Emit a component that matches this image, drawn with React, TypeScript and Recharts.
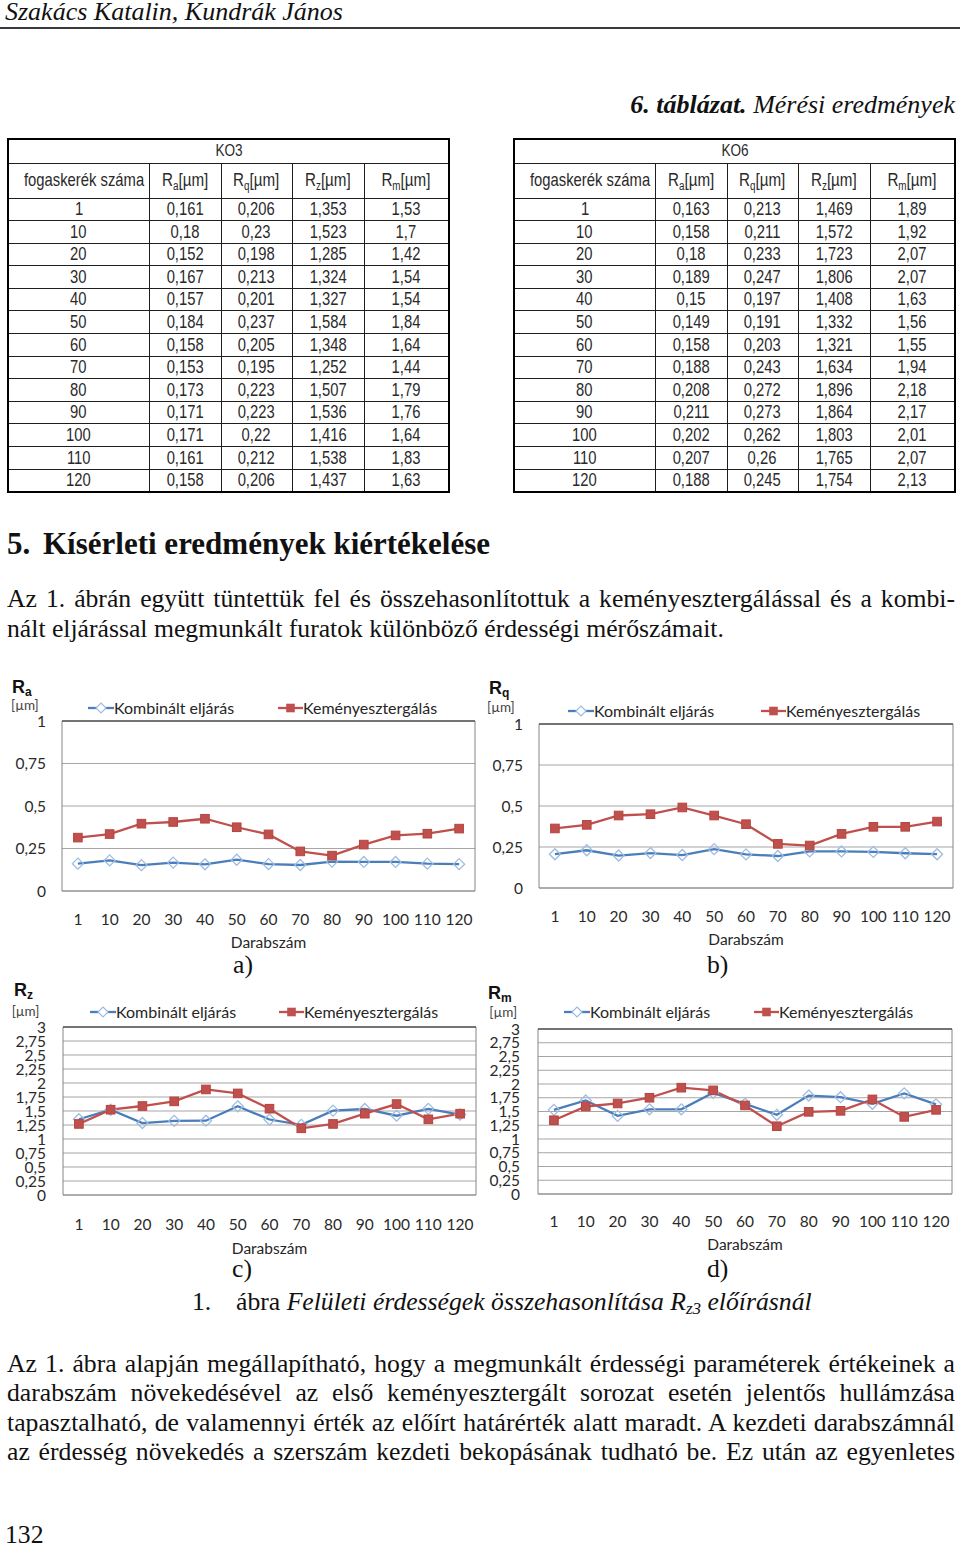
import React from "react";
import { LineChart, Line, XAxis, YAxis, CartesianGrid, ReferenceArea, ReferenceLine } from "recharts";

const darabszam = ["1", "10", "20", "30", "40", "50", "60", "70", "80", "90", "100", "110", "120"];

// KO3 table = "Kombinált eljárás" series in the plots
const ko3Ra = [0.161, 0.18, 0.152, 0.167, 0.157, 0.184, 0.158, 0.153, 0.173, 0.171, 0.171, 0.161, 0.158];
const ko3Rq = [0.206, 0.23, 0.198, 0.213, 0.201, 0.237, 0.205, 0.195, 0.223, 0.223, 0.22, 0.212, 0.206];
const ko3Rz = [1.353, 1.523, 1.285, 1.324, 1.327, 1.584, 1.348, 1.252, 1.507, 1.536, 1.416, 1.538, 1.437];
const ko3Rm = [1.53, 1.7, 1.42, 1.54, 1.54, 1.84, 1.64, 1.44, 1.79, 1.76, 1.64, 1.83, 1.63];

// KO6 table
const ko6Ra = [0.163, 0.158, 0.18, 0.189, 0.15, 0.149, 0.158, 0.188, 0.208, 0.211, 0.202, 0.207, 0.188];
const ko6Rq = [0.213, 0.211, 0.233, 0.247, 0.197, 0.191, 0.203, 0.243, 0.272, 0.273, 0.262, 0.26, 0.245];
const ko6Rz = [1.469, 1.572, 1.723, 1.806, 1.408, 1.332, 1.321, 1.634, 1.896, 1.864, 1.803, 1.765, 1.754];
const ko6Rm = [1.89, 1.92, 2.07, 2.07, 1.63, 1.56, 1.55, 1.94, 2.18, 2.17, 2.01, 2.07, 2.13];

// Keményesztergálás
const kemRa = [0.314, 0.335, 0.396, 0.406, 0.425, 0.375, 0.333, 0.233, 0.208, 0.273, 0.327, 0.337, 0.367];
const kemRq = [0.363, 0.385, 0.442, 0.45, 0.491, 0.442, 0.389, 0.269, 0.259, 0.33, 0.373, 0.373, 0.405];
const kemRz = [1.269, 1.523, 1.589, 1.672, 1.885, 1.814, 1.541, 1.191, 1.269, 1.452, 1.624, 1.352, 1.452];
const kemRm = [1.341, 1.591, 1.646, 1.75, 1.933, 1.884, 1.61, 1.232, 1.494, 1.512, 1.72, 1.402, 1.53];

const ticksSmall = [0, 0.25, 0.5, 0.75, 1];
const ticksBig = [0, 0.25, 0.5, 0.75, 1, 1.25, 1.5, 1.75, 2, 2.25, 2.5, 2.75, 3];

const BLUE = "#4A7EBB";
const RED = "#C0504D";
const DIAMOND = "#9DBCE2";
const BODY = 25.7;

const fmt = (v: number) => String(v).replace(".", ",");

const DiamondDot = (props: any) => {
  const { cx, cy, index } = props;
  if (cx == null || cy == null) return null;
  const r = 5.5;
  return (
    <path
      key={`dm${index}`}
      d={`M${cx},${cy - r}L${cx + r},${cy}L${cx},${cy + r}L${cx - r},${cy}Z`}
      fill="none"
      stroke={DIAMOND}
      strokeWidth={1.3}
    />
  );
};

const SquareDot = (props: any) => {
  const { cx, cy, index } = props;
  if (cx == null || cy == null) return null;
  return <rect key={`sq${index}`} x={cx - 4.3} y={cy - 4.3} width={8.6} height={8.6} fill={RED} stroke="#B5443F" />;
};

type Box = { x0: number; x1: number; y0: number; y1: number };

function Panel(p: {
  left: number;
  top: number;
  sub: string;
  komb: number[];
  kem: number[];
  yMax: number;
  yTicks: number[];
  plot: Box;
  rx: number;
  ry: number;
  ux: number;
  uy: number;
  legendY: number;
  blueX: number;
  redX: number;
  tickRight: number;
  xTickY: number;
  labelY: number;
}) {
  const W = 480;
  const H = 290;
  const data = darabszam.map((n, i) => ({ n, komb: p.komb[i], kem: p.kem[i] }));
  const tickStyle = { fontSize: 15.5, fill: "#2a2a2a", fontFamily: "Lato" };
  return (
    <div style={{ position: "absolute", left: p.left, top: p.top, width: W, height: H, fontFamily: "Lato" }}>
      <LineChart
        width={W}
        height={H}
        data={data}
        margin={{ top: p.plot.y0, right: W - p.plot.x1, bottom: H - p.plot.y1 - 40, left: 0 }}
      >
        <CartesianGrid vertical={false} stroke="#A6A6A6" />
        <XAxis
          dataKey="n"
          scale="band"
          interval={0}
          height={40}
          tickSize={0}
          tickMargin={p.xTickY - p.plot.y1 - 5.3}
          axisLine={false}
          tick={tickStyle}
        />
        <YAxis
          domain={[0, p.yMax]}
          ticks={p.yTicks}
          width={p.plot.x0}
          interval={0}
          tickSize={0}
          tickMargin={p.plot.x0 - p.tickRight}
          axisLine={false}
          tickFormatter={fmt}
          tick={tickStyle}
        />
        <ReferenceArea y1={0} y2={p.yMax} fill="none" stroke="#868686" />
        <ReferenceLine y={p.yMax} stroke="#3a3a3a" />
        <Line
          dataKey="komb"
          stroke={BLUE}
          strokeWidth={2.3}
          dot={DiamondDot}
          activeDot={false}
          isAnimationActive={false}
        />
        <Line
          dataKey="kem"
          stroke={RED}
          strokeWidth={2.3}
          dot={SquareDot}
          activeDot={false}
          isAnimationActive={false}
        />
      </LineChart>

      <div
        style={{
          position: "absolute",
          left: p.rx,
          top: p.ry,
          fontFamily: "Liberation Sans, Arial",
          fontWeight: "bold",
          fontSize: 18,
          lineHeight: "18px",
          color: "#111",
          whiteSpace: "nowrap",
        }}
      >
        R<span style={{ fontSize: 12, position: "relative", top: 3 }}>{p.sub}</span>
      </div>
      <div style={{ position: "absolute", left: p.ux, top: p.uy, fontSize: 13.5, lineHeight: "14px", color: "#444" }}>
        [µm]
      </div>

      <div style={{ position: "absolute", left: p.blueX, top: p.legendY - 10, height: 20, display: "flex", alignItems: "center" }}>
        <svg width={26} height={14}>
          <line x1={0} y1={7} x2={26} y2={7} stroke={BLUE} strokeWidth={2.3} />
          <path d="M13,2L18,7L13,12L8,7Z" fill="#fff" stroke={DIAMOND} strokeWidth={1.2} />
        </svg>
        <span style={{ fontSize: 16, lineHeight: "20px", color: "#262626", whiteSpace: "nowrap" }}>Kombinált eljárás</span>
      </div>
      <div style={{ position: "absolute", left: p.redX, top: p.legendY - 10, height: 20, display: "flex", alignItems: "center" }}>
        <svg width={25} height={14}>
          <line x1={0} y1={7} x2={25} y2={7} stroke={RED} strokeWidth={2.3} />
          <rect x={8.2} y={2.7} width={8.6} height={8.6} fill={RED} />
        </svg>
        <span style={{ fontSize: 16, lineHeight: "20px", color: "#262626", whiteSpace: "nowrap" }}>Keményesztergálás</span>
      </div>

      <div
        style={{
          position: "absolute",
          left: p.plot.x0,
          width: p.plot.x1 - p.plot.x0,
          top: p.labelY - 10,
          textAlign: "center",
          fontSize: 15.5,
          lineHeight: "20px",
          color: "#262626",
        }}
      >
        Darabszám
      </div>
    </div>
  );
}

const narrow = (content: React.ReactNode, s = 0.8) => (
  <span style={{ display: "inline-block", transform: `scaleX(${s})`, whiteSpace: "nowrap" }}>{content}</span>
);

function Table(p: { left: number; name: string; ra: number[]; rq: number[]; rz: number[]; rm: number[] }) {
  const cell: React.CSSProperties = {
    border: "1px solid #1e1e1e",
    padding: 0,
    textAlign: "center",
    verticalAlign: "middle",
    lineHeight: 1,
  };
  const head = (sub: string) =>
    narrow(
      <>
        R<span style={{ fontSize: 12, position: "relative", top: 4 }}>{sub}</span>[µm]
      </>,
      0.82
    );
  return (
    <table
      style={{
        position: "absolute",
        left: p.left,
        top: 138,
        width: 441,
        height: 354,
        borderCollapse: "collapse",
        tableLayout: "fixed",
        border: "2.5px solid #000",
        fontFamily: "Liberation Sans, Arial",
        fontSize: 18.5,
        color: "#2a2a2a",
      }}
    >
      <colgroup>
        <col style={{ width: 141 }} />
        <col style={{ width: 72 }} />
        <col style={{ width: 71 }} />
        <col style={{ width: 72 }} />
        <col style={{ width: 85 }} />
      </colgroup>
      <tbody>
        <tr style={{ height: 24 }}>
          <td colSpan={5} style={{ ...cell, fontSize: 16 }}>
            {narrow(p.name, 0.85)}
          </td>
        </tr>
        <tr style={{ height: 35 }}>
          <td style={cell}>{narrow("fogaskerék száma")}</td>
          <td style={cell}>{head("a")}</td>
          <td style={cell}>{head("q")}</td>
          <td style={cell}>{head("z")}</td>
          <td style={cell}>{head("m")}</td>
        </tr>
        {darabszam.map((n, i) => (
          <tr key={n} style={{ height: 22.6 }}>
            <td style={cell}>{narrow(n)}</td>
            <td style={cell}>{narrow(fmt(p.ra[i]))}</td>
            <td style={cell}>{narrow(fmt(p.rq[i]))}</td>
            <td style={cell}>{narrow(fmt(p.rz[i]))}</td>
            <td style={cell}>{narrow(fmt(p.rm[i]))}</td>
          </tr>
        ))}
      </tbody>
    </table>
  );
}

const TextLine = (p: { top: number; children: React.ReactNode; last?: boolean }) => (
  <div
    style={{
      position: "absolute",
      left: 7,
      width: 948,
      top: p.top,
      fontSize: BODY,
      lineHeight: "30px",
      textAlign: "justify",
      textAlignLast: p.last ? "left" : "justify",
      color: "#111",
    }}
  >
    {p.children}
  </div>
);

const abs = (left: number, top: number, extra: React.CSSProperties = {}): React.CSSProperties => ({
  position: "absolute",
  left,
  top,
  fontSize: BODY,
  lineHeight: "30px",
  whiteSpace: "nowrap",
  color: "#111",
  ...extra,
});

export default function App() {
  return (
    <div
      style={{
        position: "absolute",
        left: 0,
        top: 0,
        width: 960,
        height: 1549,
        background: "#fff",
        fontFamily: "Liberation Serif, Times New Roman, serif",
        overflow: "hidden",
      }}
    >
      <div style={abs(5, -3, { fontSize: 26, fontStyle: "italic" })}>Szakács Katalin, Kundrák János</div>
      <div style={{ position: "absolute", left: 0, top: 26.5, width: 960, height: 2, background: "#3a3a3a" }} />
      <div style={{ ...abs(0, 90, { fontSize: 26, fontStyle: "italic" }), left: undefined, right: 5 }}>
        <b>6. táblázat.</b> Mérési eredmények
      </div>

      <Table left={7} name="KO3" ra={ko3Ra} rq={ko3Rq} rz={ko3Rz} rm={ko3Rm} />
      <Table left={513} name="KO6" ra={ko6Ra} rq={ko6Rq} rz={ko6Rz} rm={ko6Rm} />

      <div style={abs(7, 529, { fontSize: 31, fontWeight: "bold" })}>5.</div>
      <div style={abs(43, 529, { fontSize: 31, fontWeight: "bold" })}>Kísérleti eredmények kiértékelése</div>

      <TextLine top={584}>
        Az 1. ábrán együtt tüntettük fel és összehasonlítottuk a keményesztergálással és a kombi-
      </TextLine>
      <TextLine top={614} last>
        nált eljárással megmunkált furatok különböző érdességi mérőszámait.
      </TextLine>

      <Panel
        left={0}
        top={670}
        sub="a"
        komb={ko3Ra}
        kem={kemRa}
        yMax={1}
        yTicks={ticksSmall}
        plot={{ x0: 62, x1: 475, y0: 51, y1: 221 }}
        rx={12}
        ry={7.7}
        ux={11}
        uy={27.5}
        legendY={38}
        blueX={88}
        redX={278}
        tickRight={46}
        xTickY={249}
        labelY={271.7}
      />
      <Panel
        left={480}
        top={670}
        sub="q"
        komb={ko3Rq}
        kem={kemRq}
        yMax={1}
        yTicks={ticksSmall}
        plot={{ x0: 59, x1: 473, y0: 54, y1: 218 }}
        rx={9}
        ry={9.4}
        ux={7}
        uy={30}
        legendY={40.7}
        blueX={88}
        redX={281}
        tickRight={43}
        xTickY={246.7}
        labelY={269}
      />
      <div style={abs(233, 950)}>a)</div>
      <div style={abs(707, 950)}>b)</div>

      <Panel
        left={0}
        top={975}
        sub="z"
        komb={ko3Rz}
        kem={kemRz}
        yMax={3}
        yTicks={ticksBig}
        plot={{ x0: 63, x1: 476, y0: 52, y1: 220 }}
        rx={14}
        ry={6}
        ux={11.7}
        uy={28.5}
        legendY={36.7}
        blueX={90}
        redX={279}
        tickRight={46}
        xTickY={249}
        labelY={272.7}
      />
      <Panel
        left={480}
        top={975}
        sub="m"
        komb={ko3Rm}
        kem={kemRm}
        yMax={3}
        yTicks={ticksBig}
        plot={{ x0: 58, x1: 472, y0: 54, y1: 219 }}
        rx={8}
        ry={9.4}
        ux={9.3}
        uy={30}
        legendY={36.7}
        blueX={84}
        redX={274}
        tickRight={40}
        xTickY={246.7}
        labelY={269}
      />
      <div style={abs(232, 1254)}>c)</div>
      <div style={abs(707, 1254)}>d)</div>

      <div style={abs(192, 1287)}>1.</div>
      <div style={abs(236, 1287)}>
        ábra{" "}
        <i>
          Felületi érdességek összehasonlítása R<span style={{ fontSize: 17, position: "relative", top: 4 }}>z3</span>{" "}
          előírásnál
        </i>
      </div>

      <TextLine top={1349}>
        Az 1. ábra alapján megállapítható, hogy a megmunkált érdességi paraméterek értékeinek a
      </TextLine>
      <TextLine top={1378}>
        darabszám növekedésével az első keményesztergált sorozat esetén jelentős hullámzása
      </TextLine>
      <TextLine top={1408}>
        tapasztalható, de valamennyi érték az előírt határérték alatt maradt. A kezdeti darabszámnál
      </TextLine>
      <TextLine top={1437}>
        az érdesség növekedés a szerszám kezdeti bekopásának tudható be. Ez után az egyenletes
      </TextLine>

      <div style={abs(5, 1520)}>132</div>
    </div>
  );
}
